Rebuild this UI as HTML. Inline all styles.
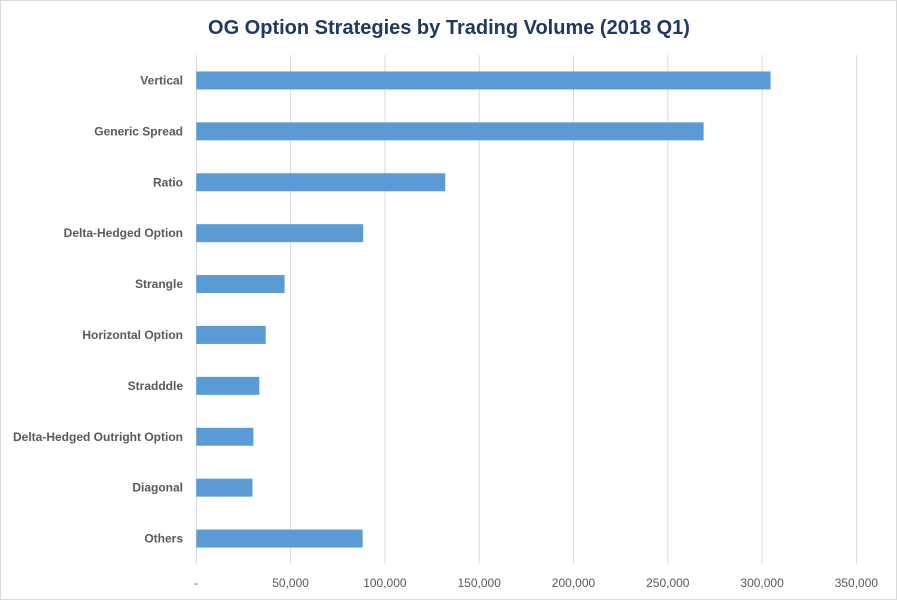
<!DOCTYPE html>
<html><head><meta charset="utf-8"><style>
body{margin:0;background:#fff;}
svg text{font-family:"Liberation Sans",sans-serif;}
</style></head><body>
<svg width="897" height="600" xmlns="http://www.w3.org/2000/svg">
<rect x="0.5" y="0.5" width="896" height="599" fill="#fff" stroke="#d9d9d9"/>
<text x="449" y="34" text-anchor="middle" font-size="20" font-weight="bold" fill="#1f3864">OG Option Strategies by Trading Volume (2018 Q1)</text>
<g id="grid"></g><g id="bars"></g><g id="ylabels"></g><g id="xlabels"></g>
</svg>
<script>
const categories=["Vertical","Generic Spread","Ratio","Delta-Hedged Option","Strangle","Horizontal Option","Stradddle","Delta-Hedged Outright Option","Diagonal","Others"];
const values=[304500,269000,132000,88500,46800,36800,33400,30300,29800,88200];
const ticks=[0,50000,100000,150000,200000,250000,300000,350000];
const tickLabels=["-","50,000","100,000","150,000","200,000","250,000","300,000","350,000"];
const ns="http://www.w3.org/2000/svg";
const x0=196.3,pxPer=94.3/50000,plotTop=55,plotBottom=564;
const xs=v=>x0+v*pxPer;
const band=(plotBottom-plotTop)/categories.length;
function mk(t,a,p){const e=document.createElementNS(ns,t);for(const k in a)e.setAttribute(k,a[k]);document.getElementById(p).appendChild(e);return e;}
ticks.forEach((t,i)=>{
 const l=mk('line',{x1:xs(t),x2:xs(t),y1:plotTop,y2:plotBottom,stroke:'#d9d9d9','stroke-width':1},'grid');
 
 
 const tx=mk('text',{x:xs(t),y:587,'text-anchor':'middle','font-size':12,fill:'#595959'},'xlabels');
 tx.textContent=tickLabels[i];
 
 
});
categories.forEach((c,i)=>{
 const cy=plotTop+band*(i+0.5);
 const r=mk('rect',{x:x0,y:cy-9,width:xs(values[i])-x0,height:18,fill:'#5b9bd5'},'bars');
 
 
 const t=mk('text',{x:183,y:cy+4,'text-anchor':'end','font-size':12,'font-weight':'bold',fill:'#595959'},'ylabels');
 t.textContent=c;
 
 
});
</script>
</body></html>
